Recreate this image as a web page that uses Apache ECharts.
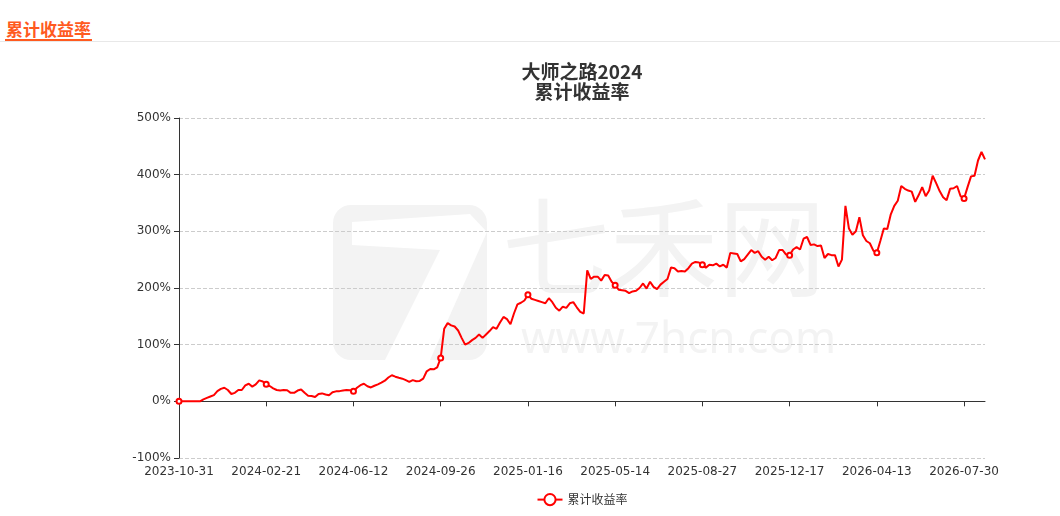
<!DOCTYPE html>
<html>
<head>
<meta charset="utf-8">
<script src="https://cdn.jsdelivr.net/npm/echarts@6/dist/echarts.min.js"></script>
<style>
body{margin:0;background:#fff;font-family:"Noto Sans CJK SC",sans-serif;}
#head{position:absolute;left:0;top:0;width:1060px;height:41px;border-bottom:1px solid #e8e8e8;}
#head span{position:absolute;left:5px;top:19px;font-size:17px;font-weight:bold;color:#ff5a1f;border-bottom:2px solid #ff5a1f;line-height:20px;padding:0 1px;}
#chart{position:absolute;left:104px;top:0;width:956px;height:516px;}
</style>
</head>
<body>
<div id="head"><span>累计收益率</span></div>
<div id="chart"></div>
<script>
// tick labels, one every 25 sampled points (3 trading days per point)
var tickLabels = ['2023-10-31', '2024-02-21', '2024-06-12', '2024-09-26', '2025-01-16',
    '2025-05-14', '2025-08-27', '2025-12-17', '2026-04-13', '2026-07-30'];
var labelStep = 25;

// cumulative return (%)
var values = [
    0, 0, 0, 0, 0, 0, 0, 3.5, 6, 8.5,
    11, 18, 22, 24, 20, 13, 15, 20, 20, 28,
    31, 26, 30, 37, 35, 30, 27, 23, 20, 19,
    20, 19.5, 15, 15, 19, 21, 15, 10, 9.4, 7.6,
    13, 14, 12, 10.6, 16, 17.6, 18, 19, 20, 19.5,
    17.6, 24, 28.5, 31, 26.5, 24.5, 27.5, 30, 33, 36.5,
    42, 46, 43.5, 41.5, 40, 37.5, 34.5, 37.5, 35.5, 36,
    40, 53, 57, 56.5, 60, 76.5, 128, 138, 134, 132,
    125, 112, 100, 103, 108, 112, 118, 112, 118, 124,
    131, 128, 139, 149, 145, 136, 155, 171, 174, 178,
    188, 181, 179, 177, 175, 173, 182, 175, 165, 160,
    167, 165, 173, 175, 166, 158, 155, 231, 216, 220,
    220, 213, 223, 222, 211, 205, 197, 196, 195, 191,
    194, 195, 200, 208, 199, 211, 202, 198, 206, 211,
    216, 236, 235, 229, 230, 229, 235, 243, 246, 245,
    241, 236, 241, 240, 243, 238, 241, 236, 262, 261,
    260, 247, 251, 259, 267, 262, 265, 255, 250, 255,
    249, 253, 267, 267, 259, 258, 268, 272, 268, 287,
    290, 276, 277, 274, 275, 253, 260, 258, 258, 238,
    250, 345, 305, 294, 300, 325, 293, 283, 279, 266,
    262, 283, 305, 304, 330, 345, 354, 380, 375, 372,
    370, 352, 364, 378, 362, 372, 398, 385, 371, 360,
    355, 375, 376, 380, 362, 358, 378, 397, 398, 425,
    440, 427
];

var categories = [];
for (var i = 0; i < values.length; i++) {
    categories.push(i % labelStep === 0 ? tickLabels[i / labelStep] : '');
}

var font = '"Noto Sans CJK SC", "Noto Sans", sans-serif';
var labelFont = '"DejaVu Sans", sans-serif';
var wm = '#f3f3f3';

var myChart = echarts.init(document.getElementById('chart'));
myChart.setOption({
    textStyle: { fontFamily: font },
    animation: false,
    title: {
        text: '大师之路2024\n累计收益率',
        left: 'center',
        top: 57,
        textStyle: { fontSize: 19, fontWeight: 'bold', color: '#333', lineHeight: 20, fontFamily: font }
    },
    legend: {
        data: ['累计收益率'],
        top: 488,
        left: 'center',
        textStyle: { color: '#333', fontSize: 12 }
    },
    grid: { left: 75, right: 75, top: 118, bottom: 58 },
    graphic: [
        { type: 'rect', z: -10, shape: { x: 229, y: 205, width: 154, height: 155, r: 18 }, style: { fill: wm } },
        { type: 'polygon', z: -9, shape: { points: [[248, 222], [366, 214], [383, 232], [326, 360], [281, 360], [336, 250], [248, 245]] }, style: { fill: '#fff' } },
        { type: 'text', z: -10, left: 398, top: 193, style: { text: '七禾网', fill: wm, font: '108px "Noto Sans CJK SC"' } },
        { type: 'text', z: -10, left: 417, top: 318, style: { text: 'www.7hcn.com', fill: wm, font: '44px "Noto Sans"' } }
    ],
    xAxis: [{
        type: 'category',
        data: categories,
        boundaryGap: false,
        axisLine: { show: false, onZero: false },
        axisTick: { show: false },
        axisLabel: { interval: labelStep - 1, color: '#333', fontSize: 12, margin: 8, fontFamily: labelFont }
    }, {
        type: 'category',
        data: categories,
        boundaryGap: false,
        position: 'bottom',
        axisLine: { show: true, onZero: true, lineStyle: { color: '#333' } },
        axisTick: { show: true, interval: labelStep - 1, length: 5, lineStyle: { color: '#333' } },
        axisLabel: { show: false }
    }],
    yAxis: {
        type: 'value',
        min: -100,
        max: 500,
        interval: 100,
        axisLine: { show: true, lineStyle: { color: '#333' } },
        axisTick: { show: true, length: 5 },
        axisLabel: { formatter: '{value}%', color: '#333', fontSize: 12, fontFamily: labelFont },
        splitLine: { lineStyle: { type: 'dashed', color: '#ccc' } }
    },
    series: [{
        name: '累计收益率',
        type: 'line',
        xAxisIndex: 0,
        data: values,
        symbol: 'emptyCircle',
        symbolSize: 5,
        showAllSymbol: 'auto',
        lineStyle: { color: '#ff0000', width: 2 },
        itemStyle: { color: '#ff0000', borderWidth: 1 }
    }]
});
</script>
</body>
</html>
